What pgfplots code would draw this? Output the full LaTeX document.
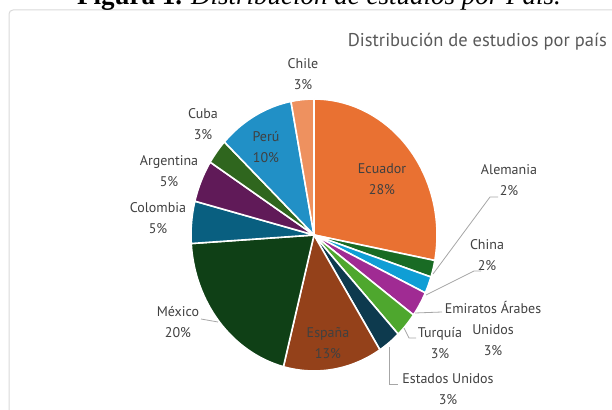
\documentclass[border=0pt]{standalone}
\usepackage{pgfplots}
\usepackage{pgfplotstable}
\pgfplotsset{compat=1.18}
\usepackage{fontspec}
\setmainfont{PT Sans}
\newfontfamily\capfont{Liberation Serif}

\definecolor{cEcu}{HTML}{E97132}
\definecolor{cAle}{HTML}{196B24}
\definecolor{cChi}{HTML}{0F9ED5}
\definecolor{cEmi}{HTML}{A02B93}
\definecolor{cTur}{HTML}{4EA72E}
\definecolor{cEEU}{HTML}{0D3A4E}
\definecolor{cEsp}{HTML}{94411A}
\definecolor{cMex}{HTML}{0F4016}
\definecolor{cCol}{HTML}{095F80}
\definecolor{cArg}{HTML}{601A58}
\definecolor{cCub}{HTML}{2F661E}
\definecolor{cPer}{HTML}{2190C6}
\definecolor{cChl}{HTML}{EE915F}
\definecolor{lbl}{HTML}{404040}
\definecolor{ttl}{HTML}{595959}
\definecolor{lead}{HTML}{A6A6A6}
\definecolor{frame}{HTML}{D9D9D9}

\tikzset{lbls/.style={font=\fontsize{14}{21}\selectfont, text=lbl, align=center, inner sep=0pt}}

% percentage per country, clockwise from 12 o'clock
\pgfplotstableread[col sep=comma]{
name,pct,col
Ecuador,28,cEcu
Alemania,2,cAle
China,2,cChi
Emiratos,3,cEmi
Turquia,3,cTur
EEUU,3,cEEU
Espana,13,cEsp
Mexico,20,cMex
Colombia,5,cCol
Argentina,5,cArg
Cuba,3,cCub
Peru,10,cPer
Chile,3,cChl
}\piedata

\begin{document}
\begin{tikzpicture}
\path[use as bounding box] (0,0) rectangle (612pt,409pt);
\begin{axis}[
  width=612pt, height=409pt, scale only axis,
  xmin=0, xmax=612, ymin=0, ymax=409,
  hide axis, clip=false,
]
% frame
\draw[frame, line width=1pt, rounded corners=4pt] (axis cs:9,399) rectangle (axis cs:650,-40);
% caption (partly cut off)
\node[anchor=base west, inner sep=0pt, font=\capfont\fontsize{27}{30}\selectfont] at (axis cs:77,404)
  {\textbf{Figura 1.} \textit{Distribución de estudios por País.}};
% title
\node[anchor=east, inner sep=0pt, text=ttl, font=\fontsize{18.5}{22}\selectfont] at (axis cs:607,367)
  {Distribución de estudios por país};
% pie wedges
\pgfplotstablegetrowsof{\piedata}
\pgfmathtruncatemacro\N{\pgfplotsretval-1}
\gdef\cum{0}
\pgfplotsforeachungrouped \i in {0,...,\N}{%
  \pgfplotstablegetelem{\i}{pct}\of\piedata \let\p\pgfplotsretval
  \pgfplotstablegetelem{\i}{col}\of\piedata \let\c\pgfplotsretval
  \pgfmathsetmacro\a{90-3.6*\cum}%
  \pgfmathsetmacro\b{90-3.6*(\cum+\p)}%
  \edef\temp{\noexpand\filldraw[fill=\c, draw=white, line width=1.6pt, line join=round]
    (axis cs:314,174) -- ++(\a:123pt and 136pt)
    arc[start angle=\a, end angle=\b, x radius=123pt, y radius=136pt] -- cycle;}%
  \temp
  \pgfmathsetmacro\newcum{\cum+\p}%
  \xdef\cum{\newcum}%
}
% leader lines
\draw[lead, line width=0.8pt] (axis cs:433,135) -- (axis cs:490,212) -- (axis cs:498,212);
\draw[lead, line width=0.8pt] (axis cs:426,114) -- (axis cs:474,138) -- (axis cs:481,138);
\draw[lead, line width=0.8pt] (axis cs:415,96) -- (axis cs:442,97);
\draw[lead, line width=0.8pt] (axis cs:404,81) -- (axis cs:409,71) -- (axis cs:416,71);
\draw[lead, line width=0.8pt] (axis cs:389,62) -- (axis cs:389,25) -- (axis cs:398,25);
\draw[lead, line width=0.8pt] (axis cs:201,90) -- (axis cs:218,87);
% labels
\node[lbls] at (axis cs:382,230) {Ecuador\\28\%};
\node[lbls] at (axis cs:266,262) {Perú\\10\%};
\node[lbls] at (axis cs:328,65.5) {España\\13\%};
\node[lbls] at (axis cs:303,335) {Chile\\3\%};
\node[lbls] at (axis cs:203,285) {Cuba\\3\%};
\node[lbls] at (axis cs:169,237.5) {Argentina\\5\%};
\node[lbls] at (axis cs:158,190.5) {Colombia\\5\%};
\node[lbls] at (axis cs:178,86.5) {México\\20\%};
\node[lbls] at (axis cs:509,229) {Alemania\\2\%};
\node[lbls] at (axis cs:487,153.5) {China\\2\%};
\node[lbls] at (axis cs:493,81) {Emiratos Árabes\\Unidos\\3\%};
\node[lbls] at (axis cs:440,66) {Turquía\\3\%};
\node[lbls] at (axis cs:448,20) {Estados Unidos\\3\%};
\end{axis}
\end{tikzpicture}
\end{document}
